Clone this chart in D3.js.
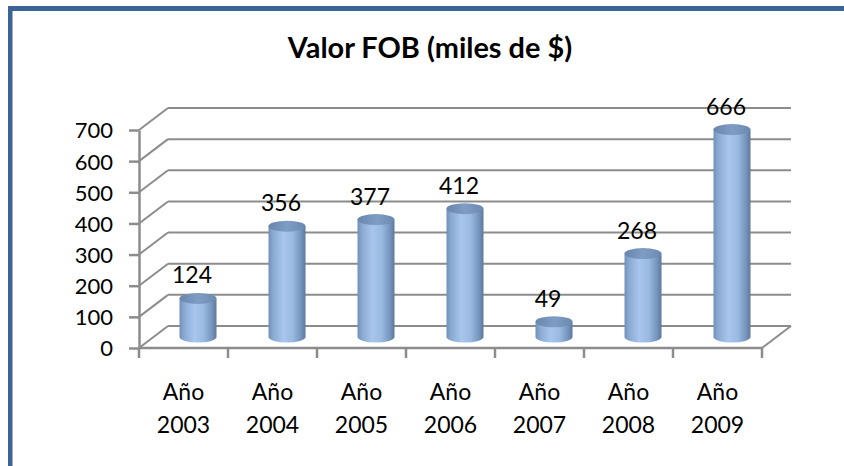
<!DOCTYPE html>
<html>
<head>
<meta charset="utf-8">
<script src="https://cdn.jsdelivr.net/npm/d3@7"></script>
<style>
  body { margin: 0; background: #fff; }
  svg { display: block; }
</style>
</head>
<body>
<svg id="chart" width="844" height="466"></svg>
<script>
// data
const categories = ["Año 2003", "Año 2004", "Año 2005", "Año 2006", "Año 2007", "Año 2008", "Año 2009"];
const values = [124, 356, 377, 412, 49, 268, 666];
const yTicks = [0, 100, 200, 300, 400, 500, 600, 700];
const chartTitle = "Valor FOB (miles de $)";

const svg = d3.select("#chart");
const font = "Lato, 'Open Sans', sans-serif";

// frame (top and left edge of the pasted box)
svg.append("rect").attr("x", 8).attr("y", 6).attr("width", 836).attr("height", 5).attr("fill", "#3b6594");
svg.append("rect").attr("x", 8).attr("y", 6).attr("width", 4.5).attr("height", 460).attr("fill", "#3b6594");

// 3d offset of the back wall
const depth = { dx: 29, dy: -22 };

const x = d3.scaleBand().domain(categories).range([139, 762]).paddingInner(0).paddingOuter(0);
const y = d3.scaleLinear().domain([0, 700]).range([348, 130]);

const gridColor = "#8c8c8c";

// back wall gridlines + side wall diagonals
const grid = svg.append("g").attr("stroke", gridColor).attr("stroke-width", 2).attr("fill", "none");
grid.selectAll("line.back")
    .data(yTicks)
    .join("line")
    .attr("class", "back")
    .attr("x1", x.range()[0] + depth.dx)
    .attr("x2", x.range()[1] + depth.dx)
    .attr("y1", d => y(d) + depth.dy)
    .attr("y2", d => y(d) + depth.dy);
grid.selectAll("line.side")
    .data(yTicks)
    .join("line")
    .attr("class", "side")
    .attr("x1", x.range()[0])
    .attr("x2", x.range()[0] + depth.dx)
    .attr("y1", d => y(d))
    .attr("y2", d => y(d) + depth.dy);
// floor right edge
grid.append("line")
    .attr("x1", x.range()[1]).attr("y1", y(0))
    .attr("x2", x.range()[1] + depth.dx).attr("y2", y(0) + depth.dy);

// y axis
const yAxis = svg.append("g")
    .attr("transform", `translate(${x.range()[0]},0)`)
    .call(d3.axisLeft(y).tickValues(yTicks).tickSize(10).tickPadding(16).tickSizeOuter(0));
yAxis.select(".domain").attr("stroke", gridColor).attr("stroke-width", 2.5);
yAxis.selectAll(".tick line").attr("stroke", gridColor).attr("stroke-width", 2.5);
yAxis.selectAll(".tick text")
    .attr("fill", "#000")
    .attr("dy", "0.36em")
    .style("font-family", font)
    .style("font-size", "22px");

// front floor edge and category ticks
svg.append("line")
    .attr("x1", x.range()[0]).attr("x2", x.range()[1])
    .attr("y1", y(0)).attr("y2", y(0))
    .attr("stroke", gridColor).attr("stroke-width", 2.5);
const bounds = categories.map(c => x(c)).concat([x.range()[1]]);
svg.append("g").selectAll("line")
    .data(bounds)
    .join("line")
    .attr("x1", d => d).attr("x2", d => d)
    .attr("y1", y(0)).attr("y2", y(0) + 10)
    .attr("stroke", gridColor).attr("stroke-width", 2.5);

// category labels (two lines)
const xl = svg.append("g")
    .style("font-family", font)
    .style("font-size", "23px")
    .attr("text-anchor", "middle")
    .selectAll("text")
    .data(categories)
    .join("text")
    .attr("x", d => x(d) + x.bandwidth() / 2);
xl.append("tspan").attr("x", d => x(d) + x.bandwidth() / 2).attr("y", 400).text(d => d.split(" ")[0]);
xl.append("tspan").attr("x", d => x(d) + x.bandwidth() / 2).attr("y", 433).text(d => d.split(" ")[1]);

// cylinder gradients
const defs = svg.append("defs");
const bodyGrad = defs.append("linearGradient").attr("id", "cylBody").attr("x1", 0).attr("x2", 1).attr("y1", 0).attr("y2", 0);
[[0, "#7190b8"], [0.12, "#8aa9d2"], [0.4, "#a8c6ec"], [0.65, "#9bbae1"], [0.88, "#7594bd"], [1, "#5c789c"]]
    .forEach(s => bodyGrad.append("stop").attr("offset", s[0]).attr("stop-color", s[1]));
const capGrad = defs.append("linearGradient").attr("id", "cylTop").attr("x1", 0).attr("x2", 1).attr("y1", 0).attr("y2", 0);
[[0, "#6985ac"], [0.5, "#7e9dc5"], [1, "#6c89b0"]]
    .forEach(s => capGrad.append("stop").attr("offset", s[0]).attr("stop-color", s[1]));

const rx = 18.5, ry = 5.5;
const cx = c => x(c) + x.bandwidth() / 2 + depth.dx / 2;
const yb = v => y(v) + depth.dy / 2;

const bars = svg.append("g")
    .selectAll("g")
    .data(categories.map((c, i) => ({ c: c, v: values[i] })))
    .join("g");

bars.append("path")
    .attr("fill", "url(#cylBody)")
    .attr("d", d => {
        const l = cx(d.c) - rx, r = cx(d.c) + rx;
        const t = yb(d.v), b = yb(0);
        return `M${l},${t} L${l},${b} A${rx},${ry} 0 0 0 ${r},${b} L${r},${t} Z`;
    });
bars.append("ellipse")
    .attr("cx", d => cx(d.c))
    .attr("cy", d => yb(d.v))
    .attr("rx", rx).attr("ry", ry)
    .attr("fill", "url(#cylTop)");

// value labels
bars.append("text")
    .attr("x", d => cx(d.c) - 6)
    .attr("y", d => yb(d.v) - 15)
    .attr("text-anchor", "middle")
    .style("font-family", font)
    .style("font-size", "23px")
    .text(d => d.v);

// title, sized to the width it has in the original
const title = svg.append("text")
    .attr("x", 430)
    .attr("y", 58)
    .attr("text-anchor", "middle")
    .style("font-family", font)
    .style("font-weight", "bold")
    .style("font-size", "28px")
    .text(chartTitle);
const tw = title.node().getComputedTextLength();
title.style("font-size", (28 * 284 / tw).toFixed(1) + "px");
</script>
</body>
</html>
